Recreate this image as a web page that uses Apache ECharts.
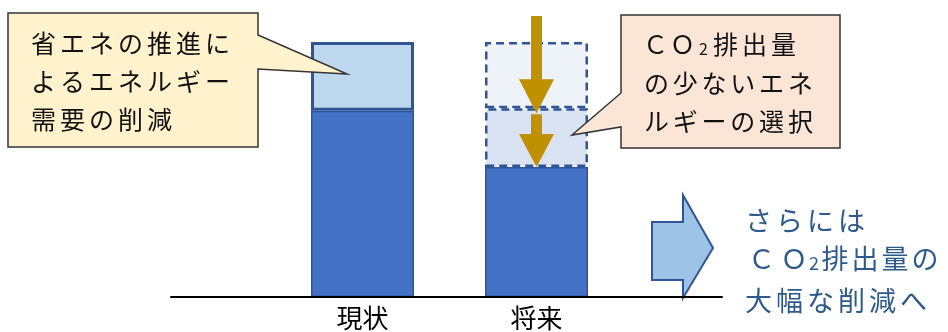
<!DOCTYPE html>
<html>
<head>
<meta charset="utf-8">
<script src="https://cdn.jsdelivr.net/npm/echarts@6/dist/echarts.min.js"></script>
<style>
html,body{margin:0;padding:0;background:#fff;}
#c{width:948px;height:332px;}
</style>
</head>
<body>
<div id="c"></div>
<script>
// ---- data ----
const categories = ['現状', '将来'];
const remainingDemand = [73, 51];      // dark blue part
const lowCarbonSwitch = ['-', 23];     // CO2 reduction by low-carbon energy choice
const efficiencyCut = [27, 26];        // demand reduction by energy saving
const calloutLeft = ['省エネの推進に', 'よるエネルギー', '需要の削減'];
const calloutRight = ['ＣＯ₂排出量', 'の少ないエネ', 'ルギーの選択'];
const sideNote = ['さらには', 'ＣＯ₂排出量の', '大幅な削減へ'];

const JP = '"Noto Sans CJK JP", "Noto Sans", sans-serif';
const chart = echarts.init(document.getElementById('c'), null, {renderer: 'canvas'});

const darkStyle = {color: '#4472C4', borderColor: '#2F5597', borderWidth: 1.5};
const lightSolid = {color: '#BDD7EE', borderColor: '#2F5597', borderWidth: 3};
const dashUpper = {color: '#EEF3FA', borderColor: '#2F5597', borderWidth: 2.5, borderType: [8, 5]};
const dashLower = {color: '#DAE3F3', borderColor: '#2F5597', borderWidth: 2.5, borderType: [8, 5]};

chart.setOption({
  animation: false,
  grid: [
    {left: 275.5, width: 348, top: 42, height: 255},
    {left: 171, width: 551, top: 42, height: 255}
  ],
  xAxis: [
    {type: 'category', gridIndex: 0, data: categories,
     axisLine: {show: false}, axisTick: {show: false},
     axisLabel: {fontSize: 26, color: '#000', fontFamily: JP, margin: 8}},
    {type: 'value', gridIndex: 1, min: 0, max: 1, z: 5,
     axisLine: {show: true, onZero: false, lineStyle: {color: '#000', width: 2}},
     axisTick: {show: false}, axisLabel: {show: false}, splitLine: {show: false}}
  ],
  yAxis: [
    {type: 'value', gridIndex: 0, min: 0, max: 100, show: false},
    {type: 'value', gridIndex: 1, min: 0, max: 1, show: false}
  ],
  series: [
    {type: 'bar', name: 'remaining', stack: 'e', barWidth: 103, xAxisIndex: 0, yAxisIndex: 0,
     itemStyle: darkStyle, data: remainingDemand},
    {type: 'bar', name: 'lowCarbon', stack: 'e', barWidth: 103, xAxisIndex: 0, yAxisIndex: 0,
     data: lowCarbonSwitch.map(v => v === '-' ? '-' : {value: v, itemStyle: dashLower})},
    {type: 'bar', name: 'efficiency', stack: 'e', barWidth: 103, xAxisIndex: 0, yAxisIndex: 0,
     data: efficiencyCut.map((v, i) => ({value: v, itemStyle: i === 0 ? lightSolid : dashUpper}))}
  ]
});

// ---- annotations ----
// sp: {C: advance of Ｃ, O: advance of Ｏ, s: advance of subscript}
function row(str, left, cy, adv, size, color, sp) {
  const els = [];
  let x = left;
  for (const ch of str) {
    if (ch === '₂') {
      els.push({type: 'text', z: 120, x: x + sp.s / 2, y: cy + size * 0.5,
        style: {text: '2', fontSize: Math.round(size * 0.65), fontFamily: JP, fill: color,
                align: 'center', verticalAlign: 'bottom'}});
      x += sp.s;
    } else {
      const a = ch === 'Ｃ' ? sp.C : ch === 'Ｏ' ? sp.O : adv;
      els.push({type: 'text', z: 120, x: x + a / 2, y: cy,
        style: {text: ch, fontSize: size, fontFamily: JP, fill: color,
                align: 'center', verticalAlign: 'middle'}});
      x += a;
    }
  }
  return els;
}

const g = [];
// left callout
g.push({type: 'polygon', z: 100, shape: {points: [[8,13],[258,13],[258,35],[347,74],[258,69],[258,147],[8,147]]},
  style: {fill: '#FFF2CC', stroke: '#333', lineWidth: 1.5}});
[43, 81, 119].forEach((cy, i) => g.push(...row(calloutLeft[i], 29, cy, 29, 25, '#111', {C: 29, O: 29, s: 15})));
// right callout
g.push({type: 'polygon', z: 100, shape: {points: [[621,15],[840,15],[840,148],[621,148],[621,127],[572,135],[621,93]]},
  style: {fill: '#FBE5D6', stroke: '#333', lineWidth: 1.5}});
[44, 83, 121].forEach((cy, i) => g.push(...row(calloutRight[i], 642, cy, i === 0 ? 29 : 28.8, 25, '#111', {C: 27, O: 27, s: 15})));
// block arrow
g.push({type: 'polygon', z: 1, shape: {points: [[652,222],[683,222],[683,195],[713,248],[683,298],[683,280],[652,280]]},
  style: {fill: '#9DC3E6', stroke: '#2F5597', lineWidth: 2}});
// side note
const blue = '#2E5A8B';
[221, 259, 301].forEach((cy, i) => g.push(...row(sideNote[i], 743, cy, i === 1 ? 30 : 31, 27, blue, {C: 37, O: 28, s: 12})));

// down arrows on the future bar, tips taken from the data scale
const fut = 1;
const cx = chart.convertToPixel({xAxisIndex: 0, yAxisIndex: 0}, [fut, 0])[0];
const yMid = chart.convertToPixel({xAxisIndex: 0, yAxisIndex: 0}, [fut, remainingDemand[fut] + lowCarbonSwitch[fut]])[1];
const yLow = chart.convertToPixel({xAxisIndex: 0, yAxisIndex: 0}, [fut, remainingDemand[fut]])[1];
function downArrow(top, tip, headH) {
  const hb = tip - headH;
  return {type: 'polygon', z: 110, shape: {points: [
    [cx, tip], [cx - 17.5, hb], [cx - 5.5, hb], [cx - 5.5, top], [cx + 5.5, top], [cx + 5.5, hb], [cx + 17.5, hb]]},
    style: {fill: '#BF9000'}};
}
g.push(downArrow(16, yMid + 5, 34));
g.push(downArrow(yMid + 6, yLow, 33));

chart.setOption({graphic: {elements: g}});
</script>
</body>
</html>
